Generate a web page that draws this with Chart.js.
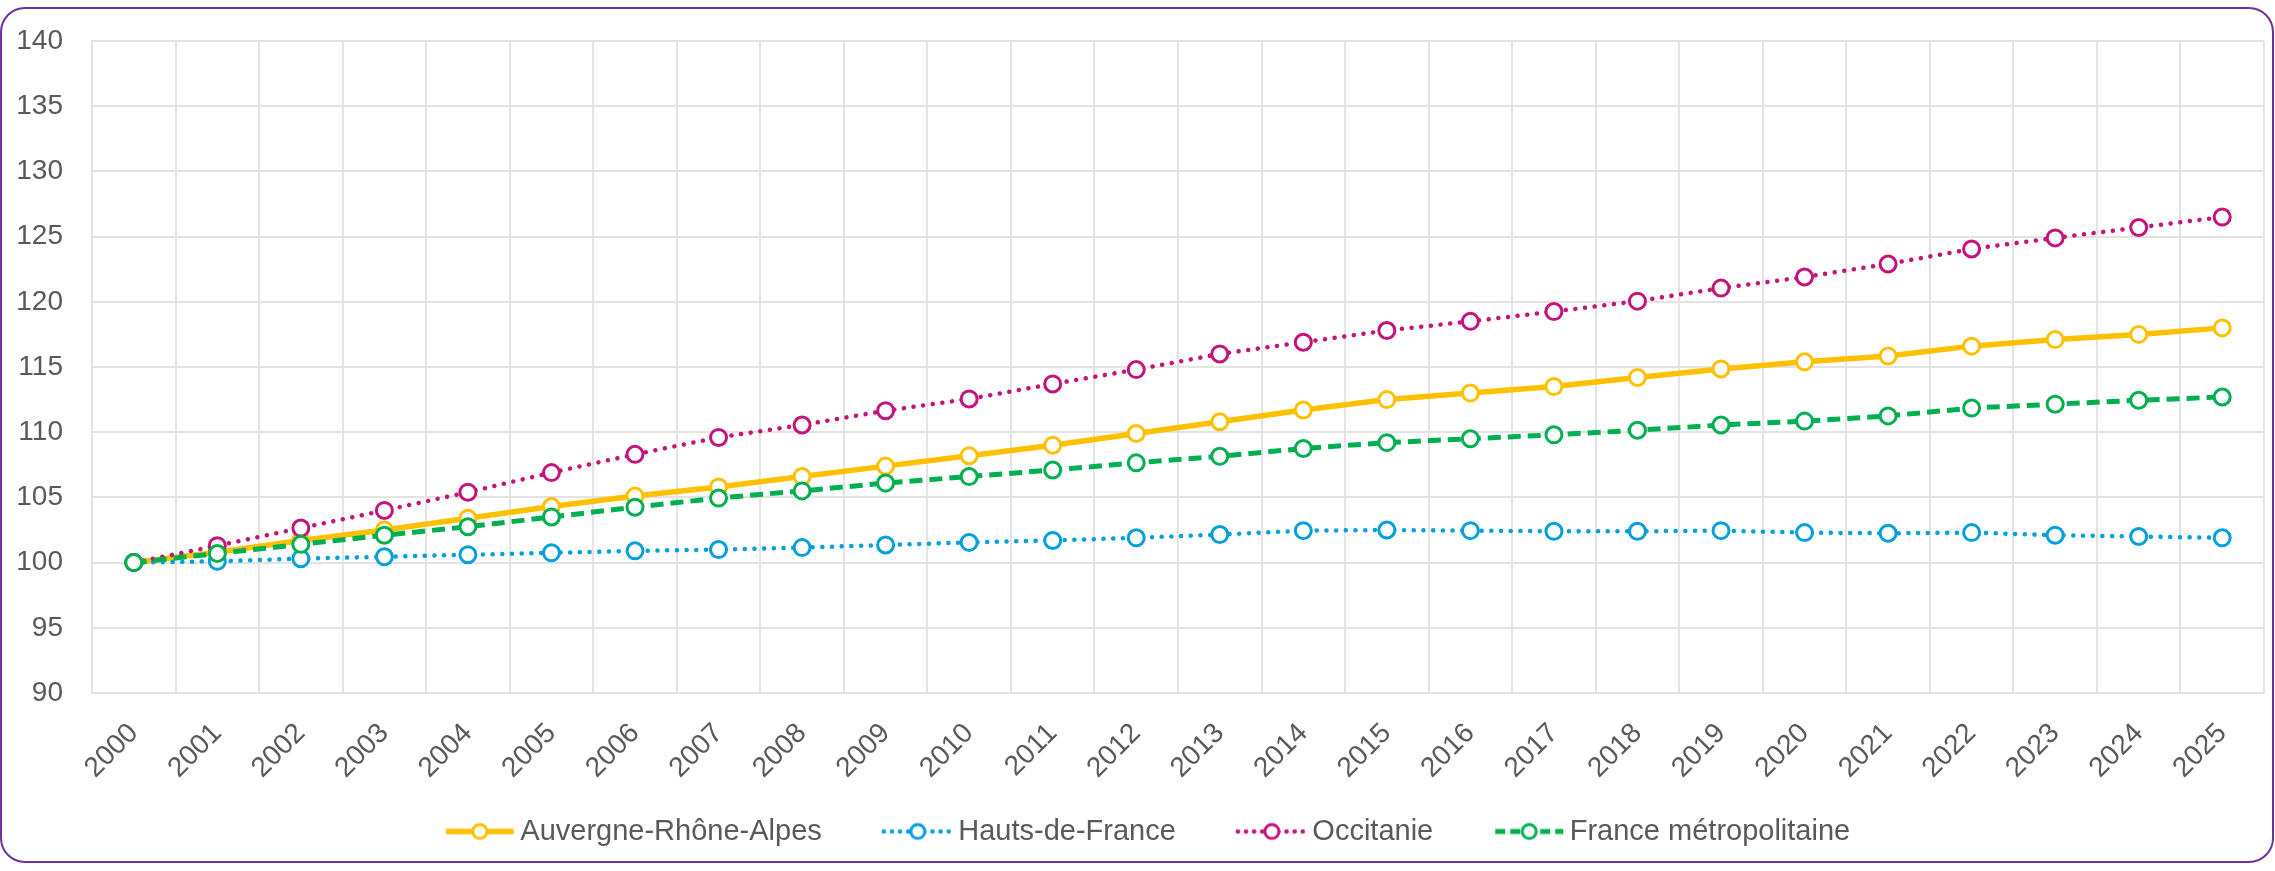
<!DOCTYPE html>
<html>
<head>
<meta charset="utf-8">
<script src="https://cdn.jsdelivr.net/npm/chart.js@4.4.1/dist/chart.umd.min.js"></script>
<style>
  html, body { margin: 0; padding: 0; background: #ffffff; }
  #wrap { width: 2275px; height: 871px; position: relative; }
</style>
</head>
<body>
<div id="wrap"><canvas id="c" width="2275" height="871"></canvas></div>
<script>
const years = ['2000','2001','2002','2003','2004','2005','2006','2007','2008','2009','2010','2011','2012','2013','2014','2015','2016','2017','2018','2019','2020','2021','2022','2023','2024','2025'];
const auvergne = [100, 100.8, 101.7, 102.5, 103.4, 104.3, 105.1, 105.8, 106.6, 107.4, 108.2, 109.0, 109.9, 110.8, 111.7, 112.5, 113.0, 113.5, 114.2, 114.85, 115.4, 115.85, 116.6, 117.1, 117.5, 118.0];
const hauts = [100, 100.1, 100.3, 100.45, 100.6, 100.75, 100.9, 101.0, 101.15, 101.35, 101.55, 101.7, 101.9, 102.15, 102.45, 102.5, 102.45, 102.4, 102.4, 102.45, 102.3, 102.25, 102.3, 102.1, 102.0, 101.9];
const occitanie = [100, 101.3, 102.65, 104.0, 105.4, 106.9, 108.3, 109.6, 110.55, 111.65, 112.55, 113.7, 114.8, 116.0, 116.9, 117.8, 118.5, 119.25, 120.05, 121.05, 121.9, 122.9, 124.05, 124.9, 125.7, 126.5];
const france = [100, 100.7, 101.4, 102.1, 102.75, 103.5, 104.25, 104.95, 105.5, 106.1, 106.6, 107.1, 107.65, 108.15, 108.75, 109.2, 109.5, 109.8, 110.15, 110.55, 110.85, 111.25, 111.85, 112.15, 112.45, 112.7];
const seriesNames = ['Auvergne-Rhône-Alpes', 'Hauts-de-France', 'Occitanie', 'France métropolitaine'];
const yTicks = { min: 90, max: 140, step: 5 };

const FONT = "'Liberation Sans', Arial, sans-serif";
const TXT = '#595959';
const GRID = '#e3e3e3';
const NONE = 'rgba(0,0,0,0)';

const styles = [
  { color: '#FFC000', width: 5.5, dash: [], cap: 'butt' },
  { color: '#00A0DC', width: 4.5, dash: [0.1, 9.6], cap: 'round' },
  { color: '#C4147C', width: 4.5, dash: [0.1, 9.6], cap: 'round' },
  { color: '#00B050', width: 5, dash: [13, 7], cap: 'butt' }
];

const LEAD = 36, MARK = 72, OVER = 10, GAP = 34;
function legendImage(st) {
  const h = 24;
  const cv = document.createElement('canvas');
  cv.width = LEAD + MARK; cv.height = h;
  const g = cv.getContext('2d');
  g.strokeStyle = st.color;
  g.lineWidth = st.width;
  g.lineCap = st.cap;
  if (st.dash.length) g.setLineDash(st.cap === 'round' ? [0.1, 8] : [10, 5]);
  g.beginPath(); g.moveTo(LEAD + 2, h/2); g.lineTo(LEAD + MARK - 2, h/2); g.stroke();
  g.setLineDash([]);
  g.beginPath(); g.arc(LEAD + MARK/2, h/2, 7, 0, Math.PI*2);
  g.fillStyle = '#fff'; g.fill();
  g.lineWidth = 3; g.strokeStyle = st.color; g.stroke();
  return cv;
}
const legendImgs = styles.map(legendImage);

const seriesData = [auvergne, hauts, occitanie, france];
const datasets = seriesData.map((d, i) => ({
  label: seriesNames[i],
  data: d,
  borderColor: styles[i].color,
  borderWidth: styles[i].width,
  borderDash: styles[i].dash,
  borderCapStyle: styles[i].cap,
  pointRadius: 8,
  pointHoverRadius: 8,
  pointBorderWidth: 3,
  pointBorderColor: styles[i].color,
  pointBackgroundColor: '#ffffff',
  fill: false,
  tension: 0,
  order: 3 - i
}));

const frame = {
  id: 'frame',
  afterDraw(chart) {
    const g = chart.ctx;
    g.save();
    g.strokeStyle = '#7030A0';
    g.lineWidth = 2;
    const x = 1, y = 8, w = 2272, h = 854, r = 24;
    g.beginPath();
    g.moveTo(x + r, y);
    g.lineTo(x + w - r, y); g.arcTo(x + w, y, x + w, y + r, r);
    g.lineTo(x + w, y + h - r); g.arcTo(x + w, y + h, x + w - r, y + h, r);
    g.lineTo(x + r, y + h); g.arcTo(x, y + h, x, y + h - r, r);
    g.lineTo(x, y + r); g.arcTo(x, y, x + r, y, r);
    g.closePath();
    g.stroke();
    g.restore();
  }
};

new Chart(document.getElementById('c'), {
  type: 'line',
  data: { labels: years, datasets },
  options: {
    responsive: false,
    animation: false,
    events: [],
    layout: { padding: { top: 41, left: 0, right: 7, bottom: 15 } },
    plugins: {
      tooltip: { enabled: false },
      legend: {
        position: 'bottom',
        labels: {
          usePointStyle: true,
          pointStyleWidth: LEAD + MARK - 2 * OVER,
          boxHeight: 24,
          padding: GAP,
          color: TXT,
          font: { family: FONT, size: 29 },
          generateLabels: () => seriesNames.map((n, i) => ({
            text: n,
            pointStyle: legendImgs[i],
            fillStyle: styles[i].color,
            strokeStyle: styles[i].color,
            lineWidth: 0,
            hidden: false,
            datasetIndex: i,
            fontColor: TXT
          }))
        }
      }
    },
    scales: {
      x: {
        type: 'category',
        offset: true,
        grid: { offset: true, color: GRID, lineWidth: 2, drawTicks: true, tickLength: 24, tickColor: NONE },
        border: { color: GRID, width: 2 },
        ticks: {
          autoSkip: false, maxRotation: 45, minRotation: 45,
          color: TXT, font: { family: FONT, size: 28 }, padding: 0
        },
        afterFit: (s) => { s.height = 90; }
      },
      y: {
        min: yTicks.min, max: yTicks.max,
        grid: { color: GRID, lineWidth: 2, drawTicks: true, tickLength: 29, tickColor: NONE },
        border: { color: GRID, width: 2 },
        ticks: {
          stepSize: yTicks.step, color: TXT,
          font: { family: FONT, size: 28 }, padding: 0
        },
        afterFit: (s) => { s.width = 92; }
      }
    }
  },
  plugins: [frame]
});
</script>
</body>
</html>
